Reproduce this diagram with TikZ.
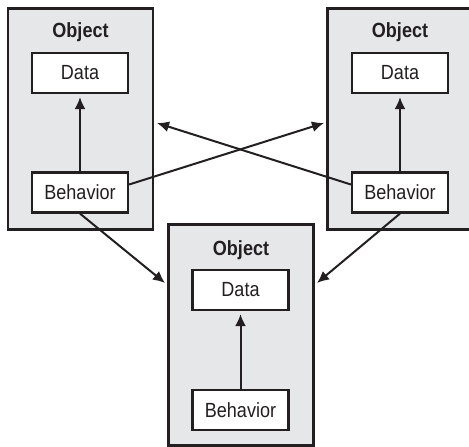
\documentclass[tikz,border=0pt]{standalone}
\usepackage{fontspec}
\setmainfont[FakeStretch=0.88]{Liberation Sans}
\usetikzlibrary{arrows.meta}
\definecolor{objgray}{HTML}{E6E7E8}
\definecolor{ink}{HTML}{231F20}
\tikzset{
  objbox/.style={draw=ink, fill=objgray, line width=2.2pt, minimum width=145pt,
    minimum height=221pt, inner sep=0pt},
  partbox/.style={draw=ink, fill=white, line width=2.2pt, minimum width=96pt,
    minimum height=40pt, inner sep=0pt, text=ink, font=\fontsize{20.5}{24}\selectfont},
  objlabel/.style={font=\bfseries\fontsize{20.5}{24}\selectfont, text=ink, inner sep=0pt},
  link/.style={line width=2pt, draw=ink, -{Latex[length=12pt,width=11pt]}}
}
\begin{document}
\begin{tikzpicture}[x=1pt, y=-1pt]
  \useasboundingbox (0,0) rectangle (469,447);

  % three objects
  \node[objbox] (L) at (80.5,119) {};
  \node[objbox] (R) at (400,119) {};
  \node[objbox] (B) at (241,335) {};

  \node[objlabel] (Lt) at (80.5,32) {Object};
  \node[objlabel] (Rt) at (400,32) {Object};
  \node[objlabel] (Bt) at (241,250) {Object};

  \node[partbox] (ld) at (80,73) {Data};
  \node[partbox] (lb) at (80,192.5) {Behavior};
  \node[partbox] (rd) at (400,73) {Data};
  \node[partbox] (rb) at (400,192.5) {Behavior};
  \node[partbox] (bd) at (240.5,290) {Data};
  \node[partbox] (bb) at (240.5,410) {Behavior};

  % arrow ends just outside the target objects
  \coordinate (crossL) at (157,123);
  \coordinate (crossR) at (324,123);
  \coordinate (inL) at (165,283);
  \coordinate (inR) at (317,283);

  % behavior acts on data inside each object
  \draw[link, shorten >=3pt] (lb.north) -- (ld.south);
  \draw[link, shorten >=3pt] (rb.north) -- (rd.south);
  \draw[link, shorten >=3pt] (bb.north) -- (bd.south);

  % messages between objects
  \draw[link] ([yshift=8pt]lb.east) -- (crossR);
  \draw[link] ([yshift=8pt]rb.west) -- (crossL);
  \draw[link] (lb.south) -- (inL);
  \draw[link] (rb.south) -- (inR);
\end{tikzpicture}
\end{document}
